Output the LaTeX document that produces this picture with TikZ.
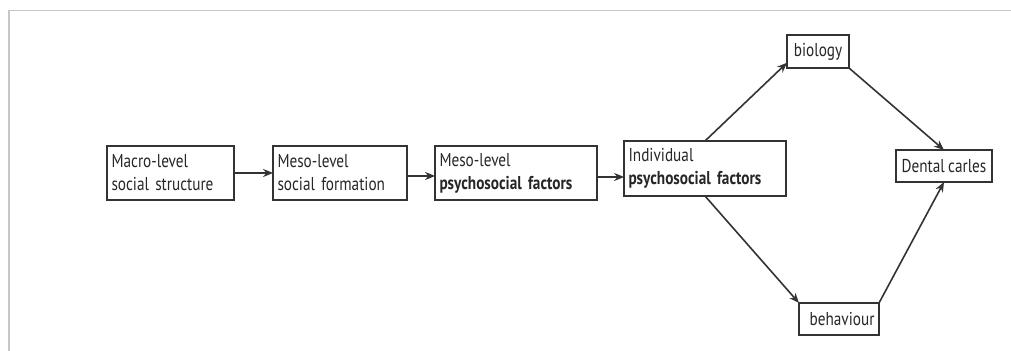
\documentclass[tikz,border=0pt]{standalone}
\usepackage{fontspec}
\setmainfont{PT Sans}[FakeStretch=0.82, WordSpace=0.8]
\usetikzlibrary{arrows.meta}

\begin{document}
\begin{tikzpicture}[x=0.5pt, y=-0.5pt]
\useasboundingbox (0, 0) rectangle (1011, 351);

% screenshot frame
\draw[gray!45, line width=0.8pt] (9, 351) -- (9, 10.5) -- (1011, 10.5);

\coordinate (C1) at (170.5, 173);
\coordinate (C2) at (340, 173);
\coordinate (C3) at (516, 173);
\coordinate (C4) at (705, 168.5);
\coordinate (C5) at (818, 51.5);
\coordinate (C6) at (944, 166);
\coordinate (C7) at (839, 319);


\tikzset{BoxStyle/.style = {
 draw = black!80,
 line width = 0.85pt,
 text = black!85,
 font = \fontsize{9.3}{11.5}\selectfont,
 inner xsep = 2.2pt,
 inner ysep = 0pt,
 outer sep = 0pt} }

\node[BoxStyle, text width=59pt, minimum height=27pt, align=left] (B1) at (C1) {Macro-level\\social structure};
\node[BoxStyle, text width=62.5pt, minimum height=27pt, align=left] (B2) at (C2) {Meso-level\\social formation};
\node[BoxStyle, text width=76.5pt, minimum height=27pt, align=left] (B3) at (C3) {Meso-level\\\textbf{psychosocial factors}};
\node[BoxStyle, text width=76.5pt, minimum height=27.5pt, align=left] (B4) at (C4) {Individual\\\textbf{psychosocial factors}};
\node[BoxStyle, minimum width=31pt, minimum height=16.5pt] (B5) at (C5) {biology};
\node[BoxStyle, minimum width=48pt, minimum height=16pt] (B6) at (C6) {Dental carles};
\node[BoxStyle, minimum width=40pt, minimum height=16pt] (B7) at (C7) {\hspace{3pt}behaviour};


\tikzset{ArrowStyle/.style = {draw = black!80, line width = 0.8pt, -{Stealth[length=5pt, width=4pt]}} }

\draw[ArrowStyle] (B1) -- (B2);
\draw[ArrowStyle] ([yshift=-1.5pt]B2.east) -- ([yshift=-1.5pt]B2.east -| B3.west);
\draw[ArrowStyle] ([yshift=-2pt]B3.east) -- ([yshift=-2pt]B3.east -| B4.west);
\draw[ArrowStyle] (B4.north) -- (B5.200);
\draw[ArrowStyle] (B4.south) -- (B7.north west);
\draw[ArrowStyle] (B5.south east) -- (B6.north);
\draw[ArrowStyle] (B7.north east) -- (B6.south);

\end{tikzpicture}
\end{document}
